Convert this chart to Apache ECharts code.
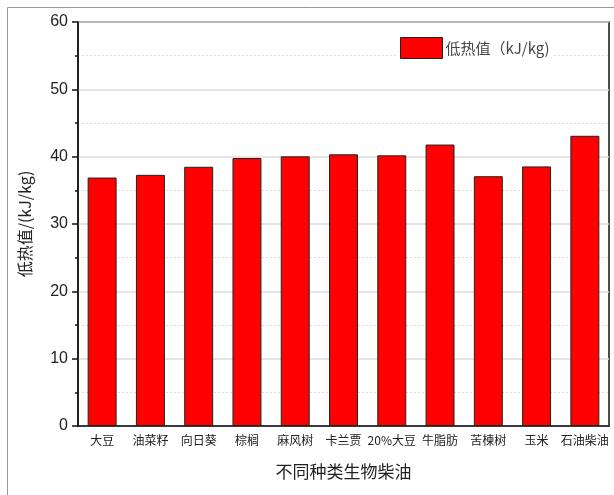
<!DOCTYPE html>
<html>
<head>
<meta charset="utf-8">
<script src="https://cdn.jsdelivr.net/npm/echarts@6/dist/echarts.min.js"></script>
<style>html,body{margin:0;padding:0;background:#fff;}#c{width:614px;height:495px;}</style>
</head>
<body>
<div id="c"></div>
<script>
const categories = ['大豆','油菜籽','向日葵','棕榈','麻风树','卡兰贾','20%大豆','牛脂肪','苦楝树','玉米','石油柴油'];
const heatValues = [36.9, 37.3, 38.5, 39.8, 40.05, 40.35, 40.2, 41.8, 37.1, 38.55, 43.1];
const seriesName = '低热值（kJ/kg)';
const yTitle = '低热值/(kJ/kg)';
const xTitle = '不同种类生物柴油';

const FONT = 'Liberation Sans, Arial, "Noto Sans CJK SC", sans-serif';
const CJK = '"Noto Sans CJK SC", "Liberation Sans", sans-serif';
const chart = echarts.init(document.getElementById('c'), null, {renderer: 'canvas'});
chart.setOption({
  animation: false,
  graphic: [{
    type: 'rect', left: 5, top: 5, z: -10,
    shape: {width: 640, height: 520},
    style: {fill: 'none', stroke: '#9a9a9a', lineWidth: 1}
  }],
  grid: {left: 78, right: 5, top: 22, bottom: 69, show: true, borderColor: '#111', borderWidth: 1.5, backgroundColor: 'transparent'},
  legend: {
    left: 396, top: 33,
    icon: 'rect',
    itemWidth: 42, itemHeight: 21, itemGap: 4,
    backgroundColor: '#fff', padding: [4, 4, 4, 4],
    textStyle: {fontFamily: CJK, fontSize: 15, color: '#444', padding: [0, 0, 0, -2]},
    data: [{name: seriesName, icon: 'rect', itemStyle: {color: '#ff0000', borderColor: '#222', borderWidth: 1}}]
  },
  xAxis: {
    type: 'category', data: categories,
    name: xTitle, nameLocation: 'middle', nameGap: 37,
    nameTextStyle: {fontFamily: CJK, fontSize: 17, color: '#222'},
    axisLine: {lineStyle: {color: '#111', width: 1.5}},
    axisTick: {alignWithLabel: true, inside: false, length: 6, lineStyle: {color: '#111', width: 1.5}},
    axisLabel: {interval: 0, fontFamily: CJK, fontSize: 12, color: '#222', margin: 8}
  },
  yAxis: {
    type: 'value', min: 0, max: 60, interval: 10,
    name: yTitle, nameLocation: 'middle', nameGap: 45, nameRotate: 90,
    nameTextStyle: {fontFamily: CJK, fontSize: 16, color: '#222'},
    axisLine: {show: true, lineStyle: {color: '#111', width: 1.5}},
    axisTick: {show: true, length: 6, lineStyle: {color: '#111', width: 1.5}},
    minorTick: {show: true, splitNumber: 2, length: 3, lineStyle: {color: '#111', width: 1.5}},
    axisLabel: {fontFamily: FONT, fontSize: 16, color: '#222', margin: 10},
    splitLine: {show: true, lineStyle: {color: '#dcdcdc', width: 1.5}},
    minorSplitLine: {show: true, lineStyle: {color: '#dcdcdc', width: 1, type: [2, 2]}}
  },
  series: [{
    name: seriesName, type: 'bar', data: heatValues,
    barWidth: '60%',
    itemStyle: {color: '#ff0000', borderColor: '#222', borderWidth: 1}
  }]
});
</script>
</body>
</html>
